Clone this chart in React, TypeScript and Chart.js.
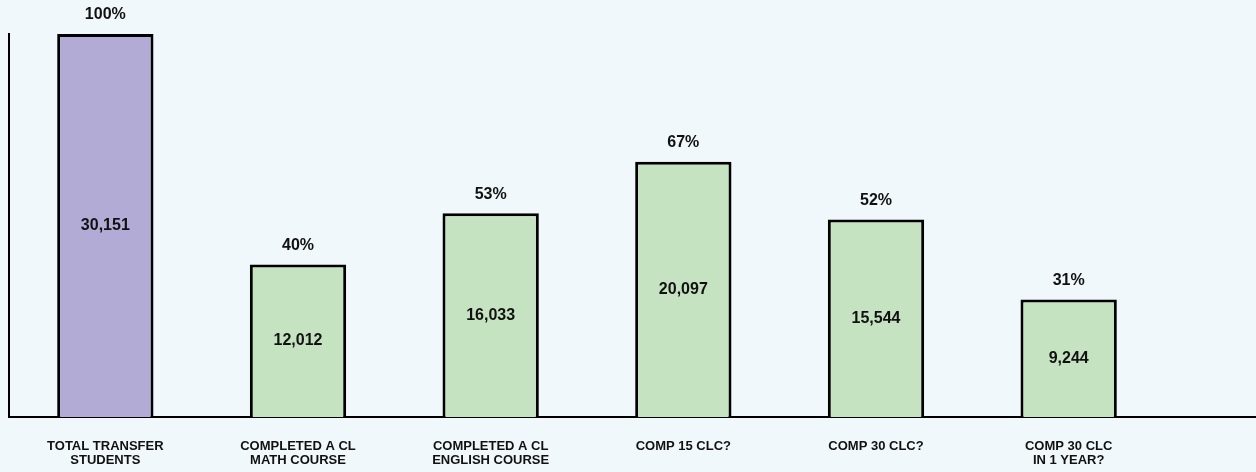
import React, { useEffect, useRef } from "react";
import { Chart, registerables } from "chart.js";

Chart.register(...registerables);

const categories: string[][] = [
  ["TOTAL TRANSFER", "STUDENTS"],
  ["COMPLETED A CL", "MATH COURSE"],
  ["COMPLETED A CL", "ENGLISH COURSE"],
  ["COMP 15 CLC?"],
  ["COMP 30 CLC?"],
  ["COMP 30 CLC", "IN 1 YEAR?"],
];
const studentCounts: number[] = [30151, 12012, 16033, 20097, 15544, 9244];
const pctLabels: string[] = ["100%", "40%", "53%", "67%", "52%", "31%"];
const barColors: string[] = ["#b1abd5", "#c5e3c1", "#c5e3c1", "#c5e3c1", "#c5e3c1", "#c5e3c1"];

const FONT = 'Helvetica, "Liberation Sans", Arial, sans-serif';
const TEXT = "#111111";

const labelPlugin = {
  id: "barLabels",
  afterDatasetsDraw(chart: any) {
    const ctx = chart.ctx;
    const meta = chart.getDatasetMeta(0);
    ctx.save();
    ctx.fillStyle = TEXT;
    ctx.font = `bold 16px ${FONT}`;
    ctx.textAlign = "center";
    ctx.textBaseline = "middle";
    meta.data.forEach((bar: any, i: number) => {
      const { x, y, base } = bar.getProps(["x", "y", "base"], true);
      ctx.fillText(pctLabels[i], x, y - 19);
      ctx.fillText(studentCounts[i].toLocaleString("en-US"), x, (y + base) / 2);
    });
    ctx.restore();
  },
  afterDraw(chart: any) {
    const { ctx, chartArea, width } = chart;
    const yy = Math.round(chartArea.bottom);
    ctx.save();
    ctx.strokeStyle = "#000";
    ctx.lineWidth = 2;
    ctx.beginPath();
    ctx.moveTo(chartArea.right - 1, yy);
    ctx.lineTo(width, yy);
    ctx.stroke();
    ctx.restore();
  },
};

export default function App() {
  const ref = useRef<HTMLCanvasElement | null>(null);

  useEffect(() => {
    document.body.style.margin = "0";
    const canvas = ref.current;
    if (!canvas) return;
    const chart = new Chart(canvas, {
      type: "bar",
      data: {
        labels: categories,
        datasets: [
          {
            data: studentCounts,
            backgroundColor: barColors,
            borderColor: "#000",
            borderWidth: 3,
            barPercentage: 0.5,
            categoryPercentage: 1,
          },
        ],
      },
      options: {
        responsive: false,
        animation: false,
        layout: { padding: { left: 9, right: 91, top: 34, bottom: 0 } },
        plugins: { legend: { display: false }, tooltip: { enabled: false } },
        scales: {
          x: {
            grid: { display: false, drawTicks: false },
            border: { display: true, color: "#000", width: 2 },
            ticks: {
              color: TEXT,
              font: { family: FONT, size: 13, weight: "bold", lineHeight: 1.1 },
              padding: 22,
              maxRotation: 0,
              autoSkip: false,
            },
            afterFit: (scale: any) => {
              scale.height = 55;
            },
          },
          y: {
            min: 0,
            max: 30151,
            grid: { display: false, drawTicks: false },
            border: { display: true, color: "#000", width: 2 },
            ticks: { display: false },
          },
        },
      },
      plugins: [labelPlugin],
    });
    return () => chart.destroy();
  }, []);

  return (
    <div
      style={{
        position: "absolute",
        left: 0,
        top: 0,
        width: 1256,
        height: 472,
        background: "#f0f8fb",
      }}
    >
      <canvas ref={ref} width={1256} height={472} />
    </div>
  );
}
